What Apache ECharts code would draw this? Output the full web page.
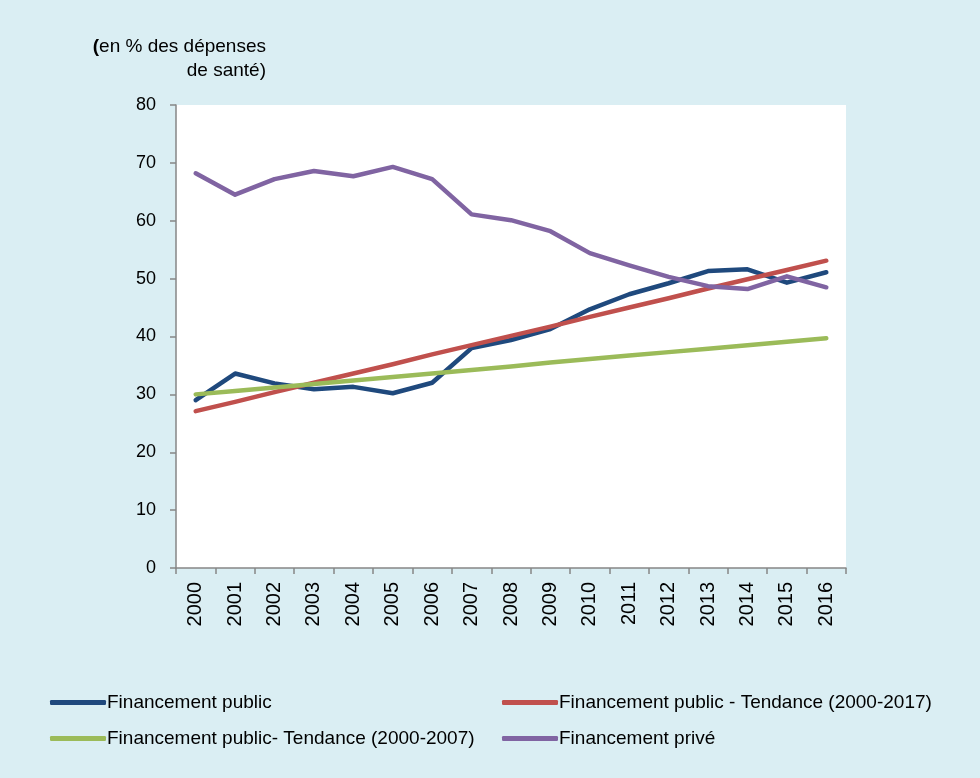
<!DOCTYPE html>
<html>
<head>
<meta charset="utf-8">
<script src="https://cdn.jsdelivr.net/npm/echarts@6/dist/echarts.min.js"></script>
<style>
  html, body { margin: 0; padding: 0; background: #daeef3; }
  #chart { width: 980px; height: 778px; }
</style>
</head>
<body>
<div id="chart"></div>
<script>
  // années
  const years = ['2000', '2001', '2002', '2003', '2004', '2005', '2006', '2007', '2008',
    '2009', '2010', '2011', '2012', '2013', '2014', '2015', '2016']
  // Financement public
  const publicValues = [29.0, 33.6, 31.9, 30.9, 31.3, 30.2, 32.0, 38.0, 39.4,
    41.3, 44.7, 47.3, 49.2, 51.3, 51.6, 49.3, 51.1]
  // tendance 2000-2017
  const trend2017 = [27.1, 28.7, 30.4, 32.0, 33.6, 35.2, 36.9, 38.5, 40.1,
    41.7, 43.4, 45.0, 46.6, 48.3, 49.9, 51.5, 53.1]
  // tendance 2000-2007
  const trend2007 = [30.0, 30.6, 31.2, 31.8, 32.4, 33.0, 33.6, 34.2, 34.8,
    35.5, 36.1, 36.7, 37.3, 37.9, 38.5, 39.1, 39.7]
  // Financement privé
  const priveValues = [68.2, 64.5, 67.2, 68.6, 67.7, 69.3, 67.2, 61.1, 60.1,
    58.2, 54.4, 52.3, 50.3, 48.7, 48.2, 50.4, 48.5]
  const yTicks = [0, 10, 20, 30, 40, 50, 60, 70, 80]

  const font = 'Liberation Sans, Arial, sans-serif'
  const chart = echarts.init(document.getElementById('chart'))

  const line = (name, data, color) => ({
    name: name,
    type: 'line',
    data: data,
    symbol: 'none',
    smooth: false,
    lineStyle: { width: 4.5, color: color, cap: 'round', join: 'round' },
    itemStyle: { color: color }
  })

  // légende sur deux colonnes
  const legendBase = {
    orient: 'vertical',
    top: 688,
    itemWidth: 56,
    itemHeight: 5,
    itemGap: 17,
    icon: 'roundRect',
    textStyle: { fontFamily: font, fontSize: 19, color: '#000', padding: [0, 0, 0, -4] }
  }

  chart.setOption({
    backgroundColor: '#daeef3',
    animation: false,
    grid: {
      left: 176, right: 134, top: 105, bottom: 210,
      show: true, backgroundColor: '#ffffff', borderWidth: 0
    },
    graphic: [{
      type: 'text',
      x: 266, y: 35,
      style: {
        text: '{b|(}en % des dépenses\nde santé)',
        align: 'right',
        fontFamily: font,
        fontSize: 19,
        lineHeight: 24,
        fill: '#000',
        rich: { b: { fontWeight: 'bold', fontFamily: font, fontSize: 19 } }
      }
    }],
    legend: [
      Object.assign({}, legendBase, {
        left: 45,
        data: ['Financement public', 'Financement public- Tendance (2000-2007)']
      }),
      Object.assign({}, legendBase, {
        left: 497,
        data: ['Financement public - Tendance (2000-2017)', 'Financement privé']
      })
    ],
    xAxis: {
      type: 'category',
      data: years,
      boundaryGap: true,
      axisLine: { lineStyle: { color: '#868686', width: 1.5 } },
      axisTick: { show: true, length: 6, inside: false, lineStyle: { color: '#868686', width: 1.5 } },
      axisLabel: { rotate: 90, margin: 14, fontFamily: font, fontSize: 20, color: '#000' },
      splitLine: { show: false }
    },
    yAxis: {
      type: 'value',
      min: yTicks[0],
      max: yTicks[yTicks.length - 1],
      interval: 10,
      axisLine: { show: true, lineStyle: { color: '#868686', width: 1.5 } },
      axisTick: { show: true, length: 6, lineStyle: { color: '#868686', width: 1.5 } },
      axisLabel: { margin: 20, fontFamily: font, fontSize: 18, color: '#000' },
      splitLine: { show: false }
    },
    series: [
      line('Financement public', publicValues, '#1f497d'),
      line('Financement public - Tendance (2000-2017)', trend2017, '#c0504d'),
      line('Financement public- Tendance (2000-2007)', trend2007, '#9bbb59'),
      line('Financement privé', priveValues, '#8064a2')
    ]
  })
</script>
</body>
</html>
